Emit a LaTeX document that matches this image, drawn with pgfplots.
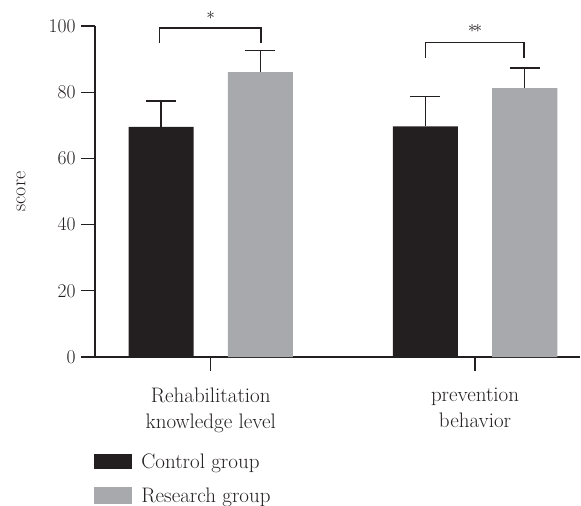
\documentclass[border=0pt]{standalone}
\usepackage{fontspec}
\usepackage{pgfplots}
\pgfplotsset{compat=1.18}
\definecolor{ctrl}{HTML}{231F20}
\definecolor{resg}{HTML}{A7A9AC}
\definecolor{ink}{HTML}{231F20}
\begin{document}
\begin{tikzpicture}
\useasboundingbox (0,0) rectangle (581bp,506bp);
\begin{axis}[
  at={(95bp,149bp)}, anchor=south west,
  scale only axis, width=485bp, height=331bp,
  xmin=-0.4378, xmax=1.397, ymin=0, ymax=100,
  clip=false,
  /pgf/number format/assume math mode=true,
  axis x line*=bottom, axis y line*=left,
  axis line style={-, line width=1.3bp, ink},
  every tick/.style={line width=1.3bp, ink},
  tick align=outside,
  major tick length=14bp,
  xtick={0,1},
  xticklabels={{Rehabilitation\\knowledge level},{prevention\\behavior}},
  xticklabel style={align=center, font=\fontsize{21bp}{26bp}\selectfont, text=ink, yshift=-13bp},
  ytick={0,20,40,60,80,100},
  yticklabel style={font=\fontsize{19.5bp}{23bp}\selectfont, text=ink, xshift=-2bp},
  ylabel={score},
  ylabel style={at={(axis description cs:-0.1526,0.5)}, anchor=center, font=\fontsize{20bp}{23bp}\selectfont, text=ink},
  bar width=0.246,
  legend style={at={(axis description cs:-0.002,-0.285)}, anchor=north west, draw=none, fill=none,
    font=\fontsize{21bp}{24bp}\selectfont, text=ink, inner sep=0pt, row sep=16bp,
    nodes={inner sep=2bp, text depth=0pt}},
  legend cell align=left,
]
\addplot[ybar, bar shift=0pt, fill=ctrl, draw=none, forget plot,
  error bars/.cd, y dir=plus, y explicit,
  error bar style={line width=1.3bp, ink},
  error mark options={line width=1.3bp, ink, mark size=15bp, rotate=90}]
  coordinates {(-0.188,69.5) +- (0,7.8) (0.812,69.7) +- (0,9.1)};
\addplot[ybar, bar shift=0pt, fill=resg, draw=none, forget plot,
  error bars/.cd, y dir=plus, y explicit,
  error bar style={line width=1.3bp, ink},
  error mark options={line width=1.3bp, ink, mark size=15bp, rotate=90}]
  coordinates {(0.188,86.1) +- (0,6.4) (1.188,81.2) +- (0,6.1)};
\addlegendimage{legend image code/.code={\fill[ctrl] (0bp,-7bp) rectangle (37bp,7bp); \path[draw=none,fill=none] (37bp,0) -- (45bp,0);}}
\addlegendentry{Control group}
\addlegendimage{legend image code/.code={\fill[resg] (0bp,-8bp) rectangle (37bp,8bp); \path[draw=none,fill=none] (37bp,0) -- (45bp,0);}}
\addlegendentry{Research group}
% significance brackets
\draw[line width=1.3bp, ink] (axis cs:-0.1945,94.8) -- (axis cs:-0.1945,99.4) -- (axis cs:0.190,99.4) -- (axis cs:0.190,94.8);
\draw[line width=1.3bp, ink] (axis cs:0.8135,90.2) -- (axis cs:0.8135,95.1) -- (axis cs:1.185,95.1) -- (axis cs:1.185,90.2);
\node[ink, inner sep=0pt, font=\fontsize{16bp}{16bp}\selectfont] at (axis cs:0,103.2) {$\ast$};
\node[ink, inner sep=0pt, font=\fontsize{16bp}{16bp}\selectfont] at (axis cs:1,99.2) {$\ast\!\ast$};
\end{axis}
\end{tikzpicture}
\end{document}
